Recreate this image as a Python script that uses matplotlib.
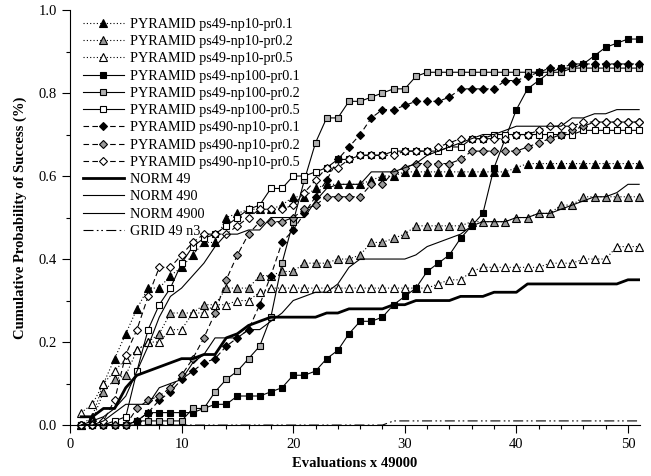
import matplotlib
matplotlib.use('Agg')
import matplotlib.pyplot as plt
import numpy as np

plt.rcParams['font.family'] = 'Liberation Serif'
plt.rcParams['font.size'] = 10.2

# evaluation index (x 49000)
evals = np.arange(1, 52)

# PYRAMID ps49-np10
pyr_ps49_np10_pr01 = [0.00, 0.02, 0.10, 0.16, 0.22, 0.28, 0.33, 0.33, 0.36, 0.38,
                      0.41, 0.44, 0.44, 0.50, 0.51, 0.52, 0.52, 0.52, 0.53, 0.55,
                      0.55, 0.57, 0.58, 0.58, 0.58, 0.58, 0.59, 0.60, 0.60, 0.61,
                      0.61, 0.61, 0.61, 0.61, 0.61, 0.61, 0.61, 0.61, 0.61, 0.62,
                      0.63, 0.63, 0.63, 0.63, 0.63, 0.63, 0.63, 0.63, 0.63, 0.63, 0.63]
pyr_ps49_np10_pr02 = [0.00, 0.01, 0.08, 0.11, 0.12, 0.18, 0.20, 0.22, 0.27, 0.27,
                      0.27, 0.29, 0.29, 0.33, 0.33, 0.33, 0.36, 0.36, 0.37, 0.37,
                      0.39, 0.39, 0.39, 0.40, 0.40, 0.41, 0.44, 0.44, 0.45, 0.46,
                      0.48, 0.48, 0.48, 0.48, 0.48, 0.49, 0.49, 0.49, 0.49, 0.50,
                      0.50, 0.51, 0.51, 0.53, 0.53, 0.55, 0.55, 0.55, 0.55, 0.55, 0.55]
pyr_ps49_np10_pr05 = [0.03, 0.05, 0.10, 0.13, 0.16, 0.18, 0.20, 0.20, 0.23, 0.23,
                      0.27, 0.27, 0.29, 0.29, 0.30, 0.30, 0.32, 0.33, 0.33, 0.33,
                      0.33, 0.33, 0.33, 0.33, 0.33, 0.33, 0.33, 0.33, 0.33, 0.33,
                      0.33, 0.33, 0.34, 0.35, 0.35, 0.37, 0.38, 0.38, 0.38, 0.38,
                      0.38, 0.38, 0.39, 0.39, 0.39, 0.40, 0.40, 0.40, 0.43, 0.43, 0.43]
# PYRAMID ps49-np100
pyr_ps49_np100_pr01 = [0.00, 0.00, 0.00, 0.00, 0.00, 0.01, 0.03, 0.03, 0.03, 0.03,
                       0.03, 0.04, 0.05, 0.05, 0.07, 0.07, 0.07, 0.08, 0.09, 0.12,
                       0.12, 0.13, 0.16, 0.18, 0.22, 0.25, 0.25, 0.26, 0.29, 0.31,
                       0.33, 0.37, 0.39, 0.41, 0.45, 0.48, 0.51, 0.62, 0.69, 0.76,
                       0.81, 0.83, 0.85, 0.86, 0.86, 0.87, 0.89, 0.91, 0.92, 0.93, 0.93]
pyr_ps49_np100_pr02 = [0.00, 0.00, 0.00, 0.00, 0.00, 0.01, 0.01, 0.01, 0.01, 0.01,
                       0.04, 0.04, 0.08, 0.11, 0.13, 0.16, 0.19, 0.26, 0.39, 0.49,
                       0.59, 0.68, 0.74, 0.74, 0.78, 0.78, 0.79, 0.80, 0.81, 0.81,
                       0.84, 0.85, 0.85, 0.85, 0.85, 0.85, 0.85, 0.85, 0.85, 0.85,
                       0.85, 0.85, 0.85, 0.85, 0.86, 0.86, 0.86, 0.86, 0.86, 0.86, 0.86]
pyr_ps49_np100_pr05 = [0.00, 0.00, 0.00, 0.01, 0.02, 0.13, 0.23, 0.29, 0.33, 0.39,
                       0.43, 0.45, 0.46, 0.48, 0.50, 0.52, 0.53, 0.57, 0.57, 0.60,
                       0.60, 0.61, 0.62, 0.64, 0.64, 0.65, 0.65, 0.65, 0.66, 0.66,
                       0.66, 0.66, 0.66, 0.67, 0.67, 0.69, 0.69, 0.70, 0.70, 0.70,
                       0.70, 0.70, 0.70, 0.70, 0.70, 0.71, 0.71, 0.71, 0.71, 0.71, 0.71]
# PYRAMID ps490-np10
pyr_ps490_np10_pr01 = [0.00, 0.00, 0.00, 0.00, 0.00, 0.01, 0.03, 0.06, 0.08, 0.11,
                       0.13, 0.15, 0.16, 0.19, 0.21, 0.23, 0.29, 0.36, 0.44, 0.47,
                       0.51, 0.55, 0.59, 0.64, 0.67, 0.70, 0.74, 0.76, 0.76, 0.77,
                       0.78, 0.78, 0.78, 0.79, 0.81, 0.81, 0.81, 0.81, 0.83, 0.83,
                       0.84, 0.85, 0.86, 0.86, 0.87, 0.87, 0.87, 0.87, 0.87, 0.87, 0.87]
pyr_ps490_np10_pr02 = [0.00, 0.00, 0.00, 0.00, 0.00, 0.04, 0.06, 0.07, 0.09, 0.12,
                       0.16, 0.21, 0.27, 0.35, 0.41, 0.46, 0.49, 0.49, 0.49, 0.50,
                       0.52, 0.53, 0.55, 0.55, 0.55, 0.55, 0.58, 0.58, 0.61, 0.62,
                       0.63, 0.63, 0.63, 0.63, 0.64, 0.66, 0.66, 0.66, 0.66, 0.66,
                       0.67, 0.68, 0.69, 0.70, 0.71, 0.72, 0.73, 0.73, 0.73, 0.73, 0.73]
pyr_ps490_np10_pr05 = [0.00, 0.00, 0.01, 0.06, 0.17, 0.23, 0.31, 0.38, 0.38, 0.41,
                       0.44, 0.46, 0.46, 0.46, 0.48, 0.50, 0.52, 0.52, 0.52, 0.53,
                       0.56, 0.59, 0.62, 0.62, 0.64, 0.65, 0.65, 0.65, 0.65, 0.66,
                       0.66, 0.66, 0.67, 0.68, 0.69, 0.69, 0.69, 0.69, 0.69, 0.70,
                       0.70, 0.71, 0.72, 0.72, 0.72, 0.73, 0.73, 0.73, 0.73, 0.73, 0.73]
# NORM
norm_49 = [0.02, 0.02, 0.04, 0.04, 0.09, 0.12, 0.13, 0.14, 0.15, 0.16,
           0.16, 0.17, 0.17, 0.21, 0.22, 0.24, 0.25, 0.26, 0.26, 0.26,
           0.26, 0.26, 0.27, 0.27, 0.28, 0.28, 0.28, 0.28, 0.29, 0.29,
           0.30, 0.30, 0.30, 0.30, 0.31, 0.31, 0.31, 0.32, 0.32, 0.32,
           0.34, 0.34, 0.34, 0.34, 0.34, 0.34, 0.34, 0.34, 0.34, 0.35, 0.35]
norm_490 = [0.00, 0.01, 0.02, 0.04, 0.07, 0.13, 0.19, 0.26, 0.31, 0.33,
            0.36, 0.39, 0.43, 0.46, 0.46, 0.47, 0.47, 0.50, 0.50, 0.50,
            0.50, 0.54, 0.57, 0.58, 0.58, 0.58, 0.61, 0.61, 0.61, 0.62,
            0.63, 0.65, 0.66, 0.67, 0.68, 0.69, 0.70, 0.70, 0.71, 0.72,
            0.72, 0.72, 0.72, 0.72, 0.74, 0.74, 0.75, 0.75, 0.76, 0.76, 0.76]
norm_4900 = [0.00, 0.00, 0.01, 0.03, 0.05, 0.05, 0.05, 0.09, 0.10, 0.11,
             0.15, 0.17, 0.21, 0.21, 0.21, 0.23, 0.23, 0.25, 0.27, 0.30,
             0.31, 0.32, 0.32, 0.34, 0.38, 0.40, 0.40, 0.40, 0.40, 0.40,
             0.41, 0.43, 0.44, 0.45, 0.46, 0.48, 0.49, 0.49, 0.49, 0.50,
             0.50, 0.51, 0.51, 0.52, 0.53, 0.54, 0.55, 0.55, 0.56, 0.58, 0.58]
grid_49_n3 = [0.00, 0.00, 0.00, 0.00, 0.00, 0.00, 0.00, 0.00, 0.00, 0.00,
              0.00, 0.00, 0.00, 0.00, 0.00, 0.00, 0.00, 0.00, 0.00, 0.00,
              0.00, 0.00, 0.00, 0.00, 0.00, 0.00, 0.00, 0.00, 0.01, 0.01,
              0.01, 0.01, 0.01, 0.01, 0.01, 0.01, 0.01, 0.01, 0.01, 0.01,
              0.01, 0.01, 0.01, 0.01, 0.01, 0.01, 0.01, 0.01, 0.01, 0.01, 0.01]

gray = '#9a9a9a'
dotted = (0, (1, 2))
dashed = (0, (5, 3))
dashdotdot = (0, (9, 3, 1.5, 2.5, 1.5, 3))

fig = plt.figure(figsize=(6.51, 4.76), dpi=100)
ax = fig.add_axes([0.1075, 0.107, 0.876, 0.872])

mk = dict(markeredgecolor='black', markeredgewidth=0.8, clip_on=False)
ax.plot(evals, pyr_ps49_np10_pr01, color='black', lw=0.8, ls=dotted, marker='^', ms=5.5,
        markerfacecolor='black', label='PYRAMID ps49-np10-pr0.1', **mk)
ax.plot(evals, pyr_ps49_np10_pr02, color='black', lw=0.8, ls=dotted, marker='^', ms=5.5,
        markerfacecolor=gray, label='PYRAMID ps49-np10-pr0.2', **mk)
ax.plot(evals, pyr_ps49_np10_pr05, color='black', lw=0.8, ls=dotted, marker='^', ms=5.5,
        markerfacecolor='white', label='PYRAMID ps49-np10-pr0.5', **mk)
ax.plot(evals, pyr_ps49_np100_pr01, color='black', lw=0.8, ls='-', marker='s', ms=5,
        markerfacecolor='black', label='PYRAMID ps49-np100-pr0.1', **mk)
ax.plot(evals, pyr_ps49_np100_pr02, color='black', lw=0.8, ls='-', marker='s', ms=5,
        markerfacecolor='#b0b0b0', label='PYRAMID ps49-np100-pr0.2', **mk)
ax.plot(evals, pyr_ps49_np100_pr05, color='black', lw=0.8, ls='-', marker='s', ms=5,
        markerfacecolor='white', label='PYRAMID ps49-np100-pr0.5', **mk)
ax.plot(evals, pyr_ps490_np10_pr01, color='black', lw=0.8, ls=dashed, marker='D', ms=4,
        markerfacecolor='black', label='PYRAMID ps490-np10-pr0.1', **mk)
ax.plot(evals, pyr_ps490_np10_pr02, color='black', lw=0.8, ls=dashed, marker='D', ms=4,
        markerfacecolor=gray, label='PYRAMID ps490-np10-pr0.2', **mk)
ax.plot(evals, pyr_ps490_np10_pr05, color='black', lw=0.8, ls=dashed, marker='D', ms=4,
        markerfacecolor='white', label='PYRAMID ps490-np10-pr0.5', **mk)
ax.plot(evals, norm_49, color='black', lw=2.0, label='NORM 49')
ax.plot(evals, norm_490, color='black', lw=0.8, label='NORM 490')
ax.plot(evals, norm_4900, color='black', lw=0.8, label='NORM 4900')
ax.plot(evals, grid_49_n3, color='black', lw=0.8, ls=dashdotdot, label='GRID 49 n3')

ax.set_xlim(0, 51.1)
ax.set_ylim(0, 1.0)
ax.set_xticks([0, 10, 20, 30, 40, 50])
ax.set_xticks(np.arange(0, 52, 2), minor=True)
ax.set_yticks([0.0, 0.2, 0.4, 0.6, 0.8, 1.0])
ax.set_yticks(np.arange(0.1, 1.0, 0.2), minor=True)
ax.set_yticklabels(['0.0', '0.2', '0.4', '0.6', '0.8', '1.0'])
ax.tick_params(which='major', direction='out', length=6, width=0.8, labelsize=10.5)
ax.tick_params(which='minor', direction='out', length=3, width=0.8)
for s in ['top', 'right']:
    ax.spines[s].set_visible(False)

ax.set_xlabel('Evaluations x 49000', fontweight='bold', fontsize=10.5)
ax.set_ylabel('Cumulative Probability of Success (%)', fontweight='bold', fontsize=10.5,
              labelpad=8)

ax.legend(loc='upper left', bbox_to_anchor=(0.0, 1.012), frameon=False, numpoints=1,
          handlelength=2.9, handletextpad=0.45, labelspacing=0.3, fontsize=10.2)

plt.savefig('out.png', dpi=100)
